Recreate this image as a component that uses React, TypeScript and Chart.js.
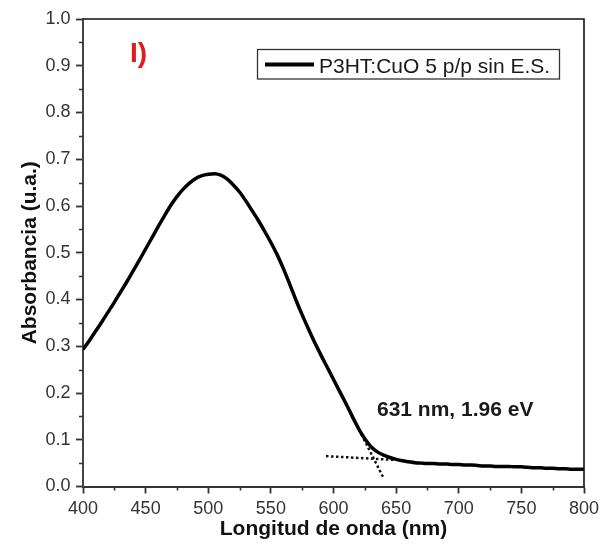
import React, { useEffect, useRef } from "react";
import { Chart, registerables } from "chart.js";

Chart.register(...registerables);

// ---- data ----
const wavelengths = [
  400, 405, 410, 415, 420, 425, 430, 435, 440, 445,
  450, 455, 460, 465, 470, 475, 480, 485, 490, 495,
  500, 505, 510, 515, 520, 525, 530, 535, 540, 545,
  550, 555, 560, 565, 570, 575, 580, 585, 590, 595,
  600, 605, 610, 615, 620, 625, 630, 635, 640, 645,
  650, 655, 660, 665, 670, 675, 680, 685, 690, 695,
  700, 705, 710, 715, 720, 725, 730, 735, 740, 745,
  750, 755, 760, 765, 770, 775, 780, 785, 790, 795, 800,
];
const absorbance = [
  0.293, 0.312, 0.332, 0.352, 0.373, 0.394, 0.416, 0.438, 0.461, 0.484,
  0.508, 0.532, 0.556, 0.579, 0.601, 0.620, 0.636, 0.649, 0.659, 0.665,
  0.668, 0.669, 0.666, 0.658, 0.645, 0.630, 0.611, 0.590, 0.569, 0.546,
  0.522, 0.496, 0.466, 0.433, 0.399, 0.367, 0.337, 0.308, 0.281, 0.255,
  0.229, 0.203, 0.177, 0.150, 0.124, 0.102, 0.085, 0.074, 0.067, 0.062,
  0.058, 0.055, 0.053, 0.051, 0.050, 0.049, 0.049, 0.048, 0.048, 0.047,
  0.047, 0.046, 0.046, 0.045, 0.044, 0.044, 0.043, 0.043, 0.043, 0.042,
  0.042, 0.041, 0.040, 0.040, 0.039, 0.039, 0.038, 0.038, 0.037, 0.037, 0.037,
];
const baselineFitX = [594, 648];
const baselineFitY = [0.065, 0.057];
const edgeFitX = [597, 640];
const edgeFitY = [0.245, 0.018];

const xMin = 400, xMax = 800, xStep = 50, xMinorStep = 25;
const yMin = 0, yMax = 1, yStep = 0.1, yMinorStep = 0.05;

const seriesLabel = "P3HT:CuO 5 p/p sin E.S.";
const panelLabel = "I)";
const gapLabel = "631 nm, 1.96 eV";
const xTitle = "Longitud de onda (nm)";
const yTitle = "Absorbancia (u.a.)";

const FONT = "'Liberation Sans', Arial, sans-serif";

const decorPlugin = {
  id: "decor",
  afterDraw(chart: any) {
    const { ctx, chartArea: a, scales } = chart;
    const x = scales.x, y = scales.y;
    ctx.save();
    // top and right frame
    ctx.strokeStyle = "#111";
    ctx.lineWidth = 1.6;
    ctx.beginPath();
    ctx.moveTo(a.left, a.top);
    ctx.lineTo(a.right, a.top);
    ctx.lineTo(a.right, a.bottom);
    ctx.stroke();
    // minor ticks
    ctx.strokeStyle = "#333";
    ctx.lineWidth = 1.6;
    ctx.beginPath();
    for (let v = yMin + yMinorStep; v < yMax; v += yStep) {
      const py = Math.round(y.getPixelForValue(v)) + 0.5;
      ctx.moveTo(a.left - 4, py);
      ctx.lineTo(a.left, py);
    }
    for (let v = xMin + xMinorStep; v < xMax; v += xStep) {
      const px = Math.round(x.getPixelForValue(v)) + 0.5;
      ctx.moveTo(px, a.bottom);
      ctx.lineTo(px, a.bottom + 4);
    }
    ctx.stroke();

    // legend box
    ctx.strokeStyle = "#333";
    ctx.lineWidth = 1.3;
    ctx.strokeRect(257.5, 49.5, 302, 29.5);
    ctx.strokeStyle = "#000";
    ctx.lineWidth = 4;
    ctx.beginPath();
    ctx.moveTo(265, 64.5);
    ctx.lineTo(314, 64.5);
    ctx.stroke();
    ctx.fillStyle = "#1a1a1a";
    ctx.font = `21px ${FONT}`;
    ctx.textBaseline = "alphabetic";
    ctx.textAlign = "left";
    ctx.fillText(chart.data.datasets[0].label, 319, 73);

    // panel label
    ctx.fillStyle = "#e01b1b";
    ctx.font = `bold 28px ${FONT}`;
    ctx.fillText(panelLabel, 130, 61.5);

    // band gap label
    ctx.fillStyle = "#1a1a1a";
    ctx.font = `bold 21px ${FONT}`;
    ctx.fillText(gapLabel, 377, 415.5);
    ctx.restore();
  },
};

export default function App() {
  const ref = useRef<HTMLCanvasElement | null>(null);

  useEffect(() => {
    if (!ref.current) return;
    const chart = new Chart(ref.current, {
      type: "line",
      data: {
        datasets: [
          {
            label: seriesLabel,
            data: wavelengths.map((w, i) => ({ x: w, y: absorbance[i] })),
            borderColor: "#000",
            borderWidth: 3.5,
            pointRadius: 0,
            cubicInterpolationMode: "monotone",
            fill: false,
          },
          {
            label: "baseline fit",
            data: baselineFitX.map((w, i) => ({ x: w, y: baselineFitY[i] })),
            borderColor: "#111",
            borderWidth: 2.5,
            borderDash: [2.5, 2.5],
            pointRadius: 0,
            fill: false,
          },
          {
            label: "edge fit",
            data: edgeFitX.map((w, i) => ({ x: w, y: edgeFitY[i] })),
            borderColor: "#111",
            borderWidth: 2.5,
            borderDash: [2.5, 2.5],
            pointRadius: 0,
            fill: false,
          },
        ],
      },
      options: {
        animation: false,
        responsive: false,
        maintainAspectRatio: false,
        layout: { padding: { left: 0, top: 19, right: 31, bottom: 0 } },
        plugins: {
          legend: { display: false },
          tooltip: { enabled: false },
          title: { display: false },
        },
        scales: {
          x: {
            type: "linear",
            min: xMin,
            max: xMax,
            afterFit: (s: any) => {
              s.height = 67.5;
            },
            ticks: {
              stepSize: xStep,
              padding: 5,
              color: "#333",
              font: { family: FONT, size: 18 },
              maxRotation: 0,
              callback: (v: any) => String(v),
            },
            grid: {
              display: true,
              drawOnChartArea: false,
              drawTicks: true,
              tickLength: 7,
              tickColor: "#333",
              tickWidth: 1.8,
            },
            border: { display: true, color: "#333", width: 2 },
            title: {
              display: true,
              text: xTitle,
              color: "#111",
              font: { family: FONT, size: 21, weight: "bold" },
              padding: { top: 0, bottom: 12 },
            },
          },
          y: {
            type: "linear",
            min: yMin,
            max: yMax,
            afterFit: (s: any) => {
              s.width = 83;
            },
            ticks: {
              stepSize: yStep,
              padding: 5.5,
              color: "#333",
              font: { family: FONT, size: 18 },
              callback: (v: any) => Number(v).toFixed(1),
            },
            grid: {
              display: true,
              drawOnChartArea: false,
              drawTicks: true,
              tickLength: 7,
              tickColor: "#333",
              tickWidth: 1.8,
            },
            border: { display: true, color: "#444", width: 2 },
            title: {
              display: true,
              text: yTitle,
              color: "#111",
              font: { family: FONT, size: 21, weight: "bold" },
              padding: { top: 18, bottom: 0 },
            },
          },
        },
      },
      plugins: [decorPlugin],
    });
    return () => chart.destroy();
  }, []);

  return (
    <div
      style={{
        position: "fixed",
        left: 0,
        top: 0,
        width: 615,
        height: 554,
        background: "#fff",
      }}
    >
      <canvas ref={ref} width={615} height={554} style={{ display: "block" }} />
    </div>
  );
}
